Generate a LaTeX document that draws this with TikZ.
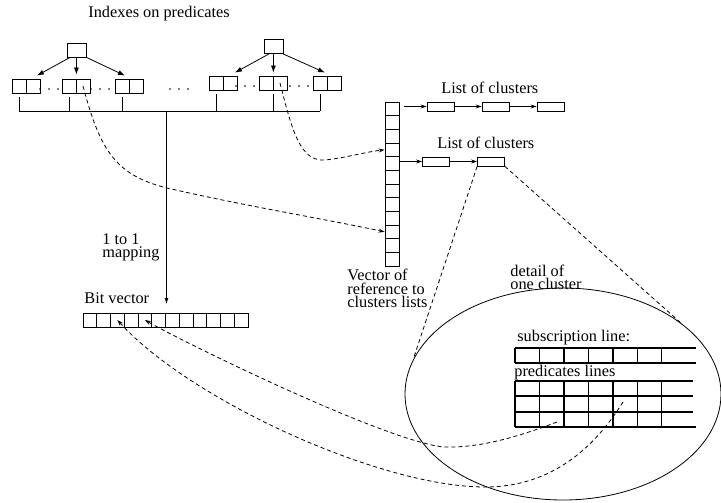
\documentclass[tikz,border=0pt]{standalone}
\usepackage{fontspec}
\setmainfont{Liberation Serif}
\usetikzlibrary{arrows.meta,shapes.geometric}
\begin{document}
\begin{tikzpicture}[x=1pt,y=-1pt,
  font=\fontsize{16.3}{13.5}\selectfont,
  every node/.style={inner sep=0pt},
  line width=0.8pt,
  half/.style={draw, minimum width=14pt, minimum height=14pt},
  rootbox/.style={draw, minimum width=19pt, minimum height=14pt},
  vcell/.style={draw, minimum width=14pt, minimum height=13.667pt},
  bcell/.style={draw, minimum width=13.75pt, minimum height=14pt},
  clbox/.style={draw, minimum width=27pt, minimum height=9pt},
  arrbig/.style={-{Latex[length=7pt,width=5pt]}},
  arrsmall/.style={-{Stealth[length=6pt,width=4pt]}},
  dashline/.style={dash pattern=on 4pt off 3pt},
  txt/.style={anchor=base west},
  dotmark/.style={fill=black}
]
\useasboundingbox (0,0) rectangle (721,503);

% title
\node[txt] (title) at (88,17.3) {Indexes on predicates};

% roots
\node[rootbox] (rl) at (76.5,50) {};
\node[rootbox] (rr) at (274,46.5) {};

% leaf pairs
\foreach \n/\x/\y in {1/19/86, 2/69/86, 3/122/86, 4/216/83, 5/266/83, 6/320/83} {
  \node[half] (la\n) at (\x,\y) {};
  \node[half] (lb\n) at (\x+14,\y) {};
}

% dots
\foreach \x in {40,49,58,91,100,109,170,179,188}
  \fill[dotmark] (\x,89) circle (0.9);
\foreach \x in {236,245,254,290,299,308}
  \fill[dotmark] (\x,86) circle (0.9);

% tree arrows
\draw[arrbig] ([xshift=-6.5pt]rl.south) -- ([xshift=4pt,yshift=3pt]lb1.north);
\draw[arrbig] (rl.south -| la2.north east) -- ([yshift=4pt]la2.north east);
\draw[arrbig] (rl.south east) -- ([xshift=3pt,yshift=3pt]la3.north);
\draw[arrbig] ([xshift=-5pt]rr.south) -- ([xshift=5pt,yshift=3pt]lb4.north);
\draw[arrbig] (rr.south -| la5.north east) -- ([yshift=3pt]la5.north east);
\draw[arrbig] ([xshift=9pt]rr.south) -- ([xshift=5pt,yshift=3pt]la6.north);

% bus
\coordinate (bus) at (166.5,111);
\foreach \n/\a in {la1/south, la2/south, la3/south, la4/south, la5/south east, la6/south}
  \draw ([yshift=-4pt]\n.\a) -- (\n.\a |- bus);
\draw (la1.south |- bus) -- (la6.south |- bus);
\coordinate (bvtop) at (166.5,304);
\draw[-{Latex[length=6pt,width=4pt]}] (bus) -- (bvtop);

% mapping text
\node[anchor=north west, align=left] (map) at (102,233) {1 to 1\\mapping};

% bit vector
\node[txt] (bv) at (84,303.3) {Bit vector};
\foreach \i in {1,...,12}
  \node[bcell] (b\i) at (83+13.75*\i-6.875,320) {};

% vector of references
\foreach \i in {1,...,12}
  \node[vcell] (v\i) at (392,102+13.667*\i-6.833) {};
\node[anchor=north west, align=left] (vec) at (347,269) {Vector of\\reference to\\clusters lists};

% lists of clusters
\node[txt] (lc1) at (441,93.3) {List of clusters};
\node[txt] (lc2) at (437,148.3) {List of clusters};
\node[clbox] (c11) at (440.5,106.5) {};
\node[clbox] (c12) at (495.5,106.5) {};
\node[clbox] (c13) at (550.5,106.5) {};
\node[clbox] (c21) at (436,161.5) {};
\node[clbox] (c22) at (491,161.5) {};
\draw[arrsmall, shorten <=5pt] (v1.east |- c11.west) -- (c11.west);
\draw[arrsmall] (c11) -- (c12);
\draw[arrsmall] (c12) -- (c13);
\draw[arrsmall] (v5.east |- c21.west) -- (c21.west);
\draw[arrsmall] (c21) -- (c22);

% dashed links from indexes to vector
\draw[dashline, arrsmall] (lb2.center) .. controls (100,150) and (115,175) .. (167,188)
  .. controls (250,207) and (320,218) .. (v10.west);
\draw[dashline, arrsmall] (lb5.center) .. controls (292,130) and (300,162) .. (325,160)
  .. controls (345,158) and (365,152) .. (v4.west);

% detail ellipse
\node[draw, ellipse, minimum width=316pt, minimum height=212pt] (ell) at (563,394) {};
\node[anchor=north west, align=left, font=\fontsize{16.3}{12.6}\selectfont] (det) at (510,265) {detail of\\one cluster};
\draw[dashline] (c22.south west) -- (ell.167);
\draw[dashline] (c22.south east) -- (ell.31);

% grid
\node[txt] (sub) at (517,341.7) {subscription line:};
\node[txt] (pred) at (514,376) {predicates lines};
\begin{scope}[line width=1.4pt]
  \foreach \i in {0,...,6} \draw (515+24.45*\i,348) -- (515+24.45*\i,363);
  \draw (515,348) -- (696,348);
  \draw (515,363) -- (696,363);
  \foreach \i in {0,...,6} \draw (515+24.45*\i,381) -- (515+24.45*\i,427);
  \foreach \y in {381,396,412} \draw (515,\y) -- (693,\y);
  \draw (515,427) -- (696,427);
\end{scope}

% dashed links from cluster grid to bit vector
\coordinate (gA) at (623,402);
\coordinate (gB) at (557,422);
\draw[dashline, arrsmall] (gB) .. controls (510,440) and (475,448) .. (443,447)
  .. controls (383,440) and (183,342) .. (b5.center);
\draw[dashline, arrsmall] (gA) .. controls (590,455) and (545,487) .. (485,487)
  .. controls (380,487) and (190,400) .. (b3.center);
\end{tikzpicture}
\end{document}
